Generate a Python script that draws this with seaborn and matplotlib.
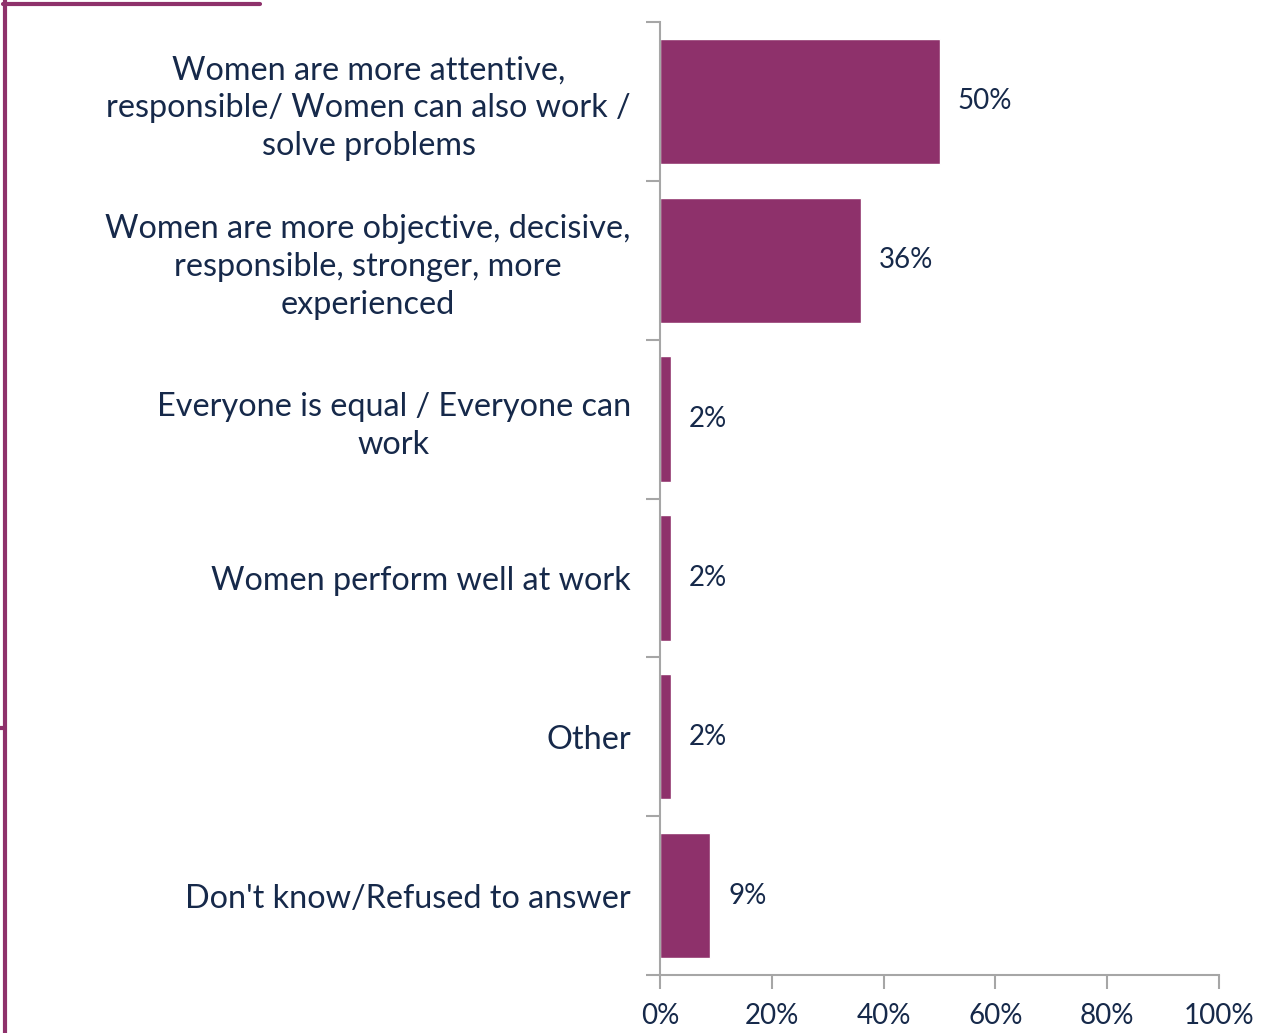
import matplotlib
matplotlib.use("Agg")
import matplotlib.pyplot as plt
from matplotlib.lines import Line2D
import seaborn as sns
import pandas as pd
import numpy as np

# data
categories = [
    "Women are more attentive,\nresponsible/ Women can also work /\nsolve problems",
    "Women are more objective, decisive,\nresponsible, stronger, more\nexperienced",
    "Everyone is equal / Everyone can\nwork",
    "Women perform well at work",
    "Other",
    "Don't know/Refused to answer",
]
values = [50, 36, 2, 2, 2, 9]
x_ticks = [0, 20, 40, 60, 80, 100]

bar_color = "#8E316B"
text_color = "#16294A"
axis_color = "#A6A6A6"

sns.set_style("white")
plt.rcParams["font.family"] = ["Lato", "DejaVu Sans"]

df = pd.DataFrame({"label": categories, "value": values})

fig = plt.figure(figsize=(12.62, 10.33), dpi=100)
ax = fig.add_axes([660 / 1262, 1 - 975 / 1033, (1219 - 660) / 1262, (975 - 22) / 1033])

sns.barplot(data=df, y="label", x="value", orient="h", color=bar_color,
            width=0.79, saturation=1, ax=ax)

ax.set_xlim(0, 100)
ax.set_ylim(len(categories) - 0.5, -0.5)
ax.set_xticks(x_ticks)
ax.set_xticklabels([f"{t}%" for t in x_ticks], fontsize=20, color=text_color)
ax.set_xlabel("")
ax.set_ylabel("")

# category labels at centres, tick marks on the boundaries
ax.set_yticks(range(len(categories)))
ax.set_yticklabels(categories, fontsize=23.3, color=text_color, linespacing=1.32)
for lab in ax.get_yticklabels():
    lab.set_multialignment("center")
ax.tick_params(axis="y", which="major", length=0, pad=21)
ax.set_yticks(np.arange(-0.5, len(categories), 1), minor=True)
ax.tick_params(axis="y", which="minor", length=10, width=1.5, color=axis_color, left=True)
ax.tick_params(axis="x", which="major", length=10, width=1.5, color=axis_color,
               bottom=True, pad=10)

for side in ["top", "right"]:
    ax.spines[side].set_visible(False)
for side in ["left", "bottom"]:
    ax.spines[side].set_color(axis_color)
    ax.spines[side].set_linewidth(1.5)

# value labels
for i, v in enumerate(values):
    ax.text(v + 3.2, i, f"{v}%", va="center", ha="left", fontsize=20, color=text_color)

# decorative frame on the slide
fig.add_artist(Line2D([5 / 1262, 5 / 1262], [0, 1], color=bar_color, lw=3,
                      transform=fig.transFigure))
fig.add_artist(Line2D([3 / 1262, 260 / 1262], [1 - 4 / 1033, 1 - 4 / 1033],
                      color=bar_color, lw=3, transform=fig.transFigure))
fig.add_artist(Line2D([0, 5 / 1262], [1 - 728 / 1033, 1 - 728 / 1033],
                      color=bar_color, lw=3, transform=fig.transFigure))

fig.savefig("out.png", dpi=100)
